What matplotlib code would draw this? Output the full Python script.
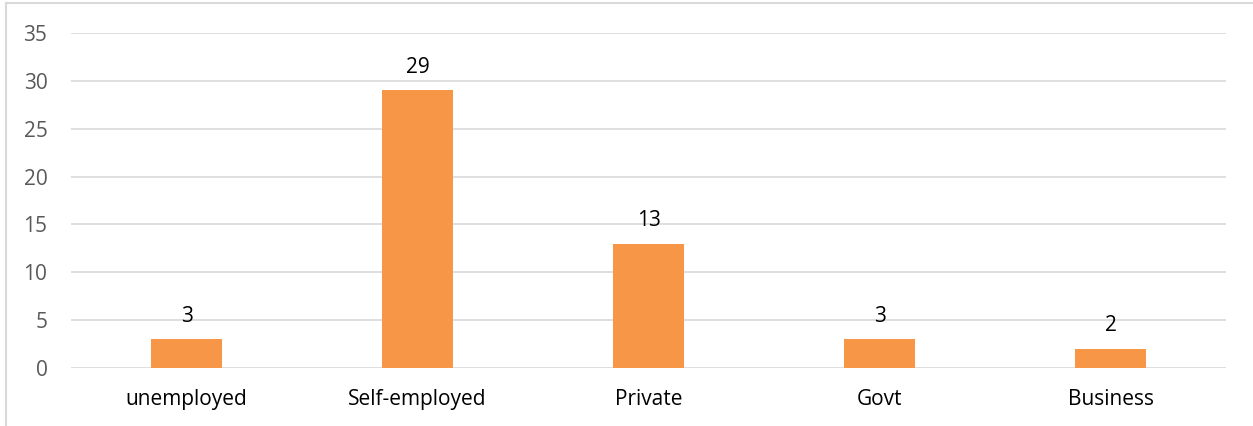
import matplotlib.pyplot as plt
from matplotlib.lines import Line2D
import numpy as np

plt.rcParams['font.family'] = ['Open Sans', 'DejaVu Sans']

categories = ['unemployed', 'Self-employed', 'Private', 'Govt', 'Business']
counts = [3, 29, 13, 3, 2]

fig = plt.figure(figsize=(12.53, 4.26), dpi=100)
ax = fig.add_axes([0.0567, 0.1362, 0.9218, 0.7863])

x = np.arange(len(categories))
ax.bar(x, counts, width=0.31, color='#F79646', zorder=3)

# value labels above each bar
for xi, v in zip(x, counts):
    ax.annotate(str(v), (xi, v), xytext=(0, 9), textcoords='offset points',
                ha='center', va='bottom', fontsize=15, color='black')

ax.set_xlim(-0.5, len(categories) - 0.5)
ax.set_ylim(0, 35)
ax.set_yticks(range(0, 36, 5))
ax.set_xticks(x)
ax.set_xticklabels(categories, fontsize=15, color='black')
ax.tick_params(axis='y', labelsize=15, labelcolor='#595959', length=0, pad=17)
ax.tick_params(axis='x', length=0, pad=15)
ax.yaxis.grid(True, color='#D9D9D9', linewidth=1.2, zorder=0)
for s in ax.spines.values():
    s.set_visible(False)

# chart area border on the left and top
fig.add_artist(Line2D([6 / 1253, 6 / 1253], [0, 1 - 3 / 426], color='#D9D9D9', linewidth=1.5))
fig.add_artist(Line2D([6 / 1253, 1], [1 - 3 / 426, 1 - 3 / 426], color='#D9D9D9', linewidth=1.5))

fig.savefig('out.png', dpi=100)
